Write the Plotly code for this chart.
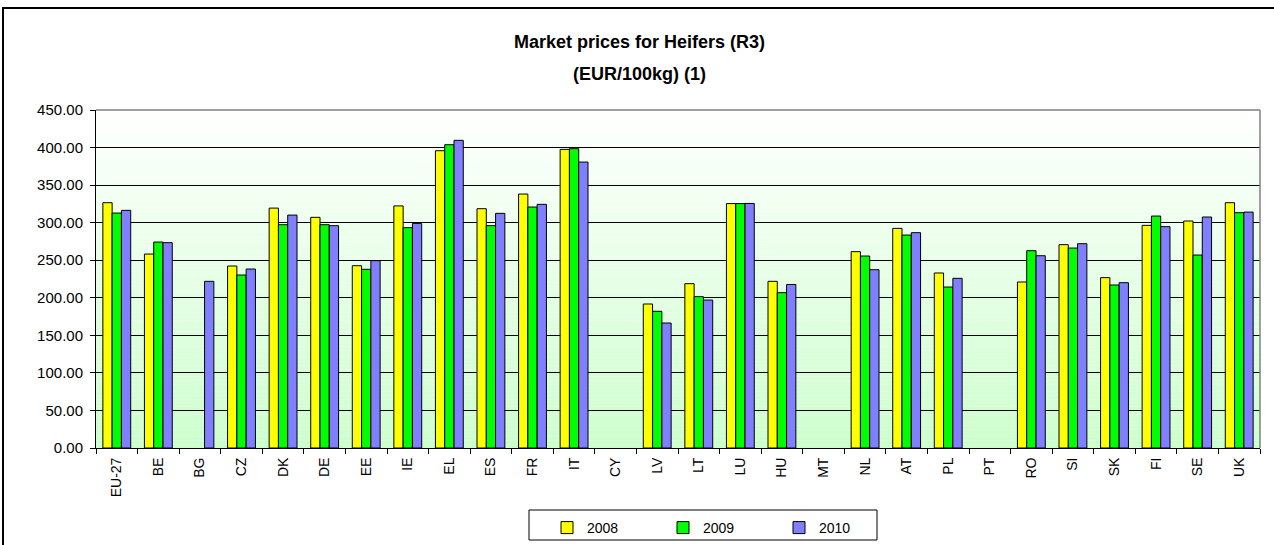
import plotly.graph_objects as go

# Market prices for heifers (R3), EUR/100kg, by member state
countries = ["EU-27", "BE", "BG", "CZ", "DK", "DE", "EE", "IE", "EL", "ES", "FR", "IT", "CY", "LV",
             "LT", "LU", "HU", "MT", "NL", "AT", "PL", "PT", "RO", "SI", "SK", "FI", "SE", "UK"]
prices_2008 = [326.6, 258.2, None, 242.3, 319.4, 307.1, 242.7, 322.3, 395.8, 318.6, 338.1, 397.6, None, 191.7,
               218.8, 325.4, 221.9, None, 261.4, 292.4, 233.0, None, 221.0, 270.7, 226.8, 296.4, 302.2, 326.6]
prices_2009 = [312.8, 274.2, None, 230.3, 297.3, 297.3, 237.9, 293.3, 403.8, 296.0, 320.8, 398.5, None, 182.0,
               201.5, 325.4, 206.8, None, 255.6, 283.5, 214.3, None, 262.7, 266.2, 217.0, 308.8, 256.9, 313.3]
prices_2010 = [316.4, 273.4, 221.9, 238.3, 310.1, 296.0, 249.4, 299.0, 409.6, 312.4, 324.4, 380.7, None, 166.4,
               197.0, 325.6, 217.7, None, 237.4, 286.7, 225.9, None, 256.0, 272.0, 220.1, 294.7, 307.5, 314.1]
years = ["2008", "2009", "2010"]
series = [prices_2008, prices_2009, prices_2010]
bar_colors = ["#FFFF00", "#00FF00", "#8080FF"]
y_ticks = [0, 50, 100, 150, 200, 250, 300, 350, 400, 450]

FONT = "Liberation Sans, Arial, sans-serif"

fig = go.Figure()
for name, vals, col in zip(years, series, bar_colors):
    fig.add_trace(go.Bar(
        name=name, x=countries, y=vals,
        marker=dict(color=col, line=dict(color="#000000", width=1)),
    ))

# page geometry (pixels)
W, H = 1274, 545
L, R, T, B = 96, 14, 110, 97
pw, ph = W - L - R, H - T - B


def px(x):
    return (x - L) / pw


def py(y):
    return (H - B - y) / ph


shapes = []
# vertical white-to-light-green gradient behind the bars
n_steps = 90
top_rgb, bot_rgb = (255, 255, 255), (204, 255, 204)
for i in range(n_steps):
    f = (i + 0.5) / n_steps
    r, g, b = (round(bot_rgb[k] + (top_rgb[k] - bot_rgb[k]) * f) for k in range(3))
    shapes.append(dict(type="rect", xref="paper", yref="y", layer="below",
                       x0=0, x1=1, y0=450 * i / n_steps, y1=450 * (i + 1) / n_steps,
                       fillcolor=f"rgb({r},{g},{b})", line=dict(width=0)))
# grey top/right edges of the plot area
shapes.append(dict(type="line", xref="paper", yref="paper", x0=0, x1=1, y0=1, y1=1,
                   line=dict(color="#808080", width=1.5), layer="above"))
shapes.append(dict(type="line", xref="paper", yref="paper", x0=1, x1=1, y0=0, y1=1,
                   line=dict(color="#808080", width=1.5), layer="above"))
# legend frame
shapes.append(dict(type="rect", xref="paper", yref="paper",
                   x0=px(529), x1=px(877), y0=py(540), y1=py(510),
                   line=dict(color="#000000", width=1), fillcolor="rgba(0,0,0,0)"))
# outer chart frame
shapes.append(dict(type="rect", xref="paper", yref="paper",
                   x0=px(3), x1=px(1277), y0=py(552), y1=py(8),
                   line=dict(color="#000000", width=2), fillcolor="rgba(0,0,0,0)"))

annotations = [
    dict(text="<b>Market prices for Heifers (R3)</b>", xref="paper", yref="paper",
         x=px(639), y=py(42), xanchor="center", yanchor="middle", showarrow=False,
         font=dict(family=FONT, size=18, color="#000000")),
    dict(text="<b>(EUR/100kg) (1)</b>", xref="paper", yref="paper",
         x=px(639), y=py(74), xanchor="center", yanchor="middle", showarrow=False,
         font=dict(family=FONT, size=18, color="#000000")),
]

fig.update_layout(
    width=W, height=H,
    margin=dict(l=L, r=R, t=T, b=B, autoexpand=False),
    paper_bgcolor="#FFFFFF", plot_bgcolor="#FFFFFF",
    barmode="group", bargap=0.33, bargroupgap=0,
    font=dict(family=FONT, color="#000000"),
    shapes=shapes, annotations=annotations,
    showlegend=True,
    legend=dict(orientation="h", x=px(547), y=py(512), xanchor="left", yanchor="top",
                bgcolor="rgba(0,0,0,0)", borderwidth=0,
                entrywidth=71, entrywidthmode="pixels",
                font=dict(family=FONT, size=14, color="#000000"),
                traceorder="normal"),
    xaxis=dict(type="category", showline=True, linecolor="#000000", linewidth=1,
               ticks="outside", tickson="boundaries", ticklen=5, tickcolor="#000000",
               ticklabelstandoff=3,
               tickangle=-90, tickfont=dict(family=FONT, size=14, color="#000000"),
               showgrid=False, fixedrange=True),
    yaxis=dict(range=[0, 450], tickvals=y_ticks, ticktext=[f"{v:.2f}" for v in y_ticks],
               showline=True, linecolor="#000000", linewidth=1,
               ticks="outside", ticklen=5, tickcolor="#000000",
               ticklabelstandoff=4,
               tickfont=dict(family=FONT, size=15, color="#000000"),
               showgrid=True, gridcolor="#000000", gridwidth=1,
               zeroline=False, fixedrange=True),
)

fig.write_html("out.html")
